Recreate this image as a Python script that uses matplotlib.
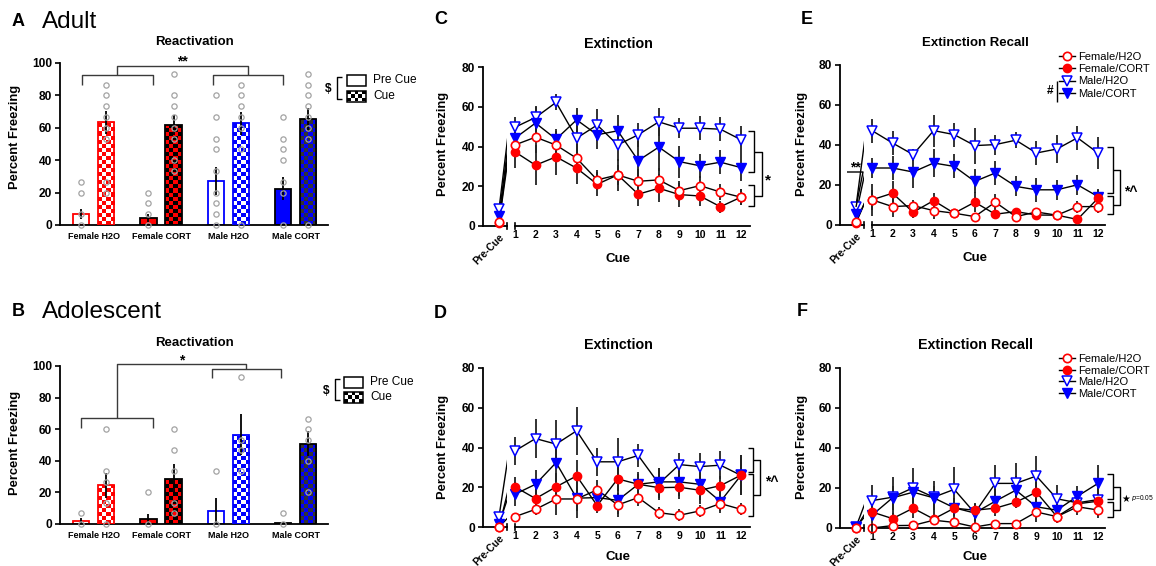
import matplotlib
matplotlib.use('Agg')
import matplotlib.pyplot as plt
import numpy as np
from matplotlib.colors import ListedColormap
from matplotlib.lines import Line2D
from matplotlib.patches import Rectangle

plt.rcParams['font.family'] = ['Liberation Sans', 'DejaVu Sans']

W, H = 1156, 566
RED = '#ff0000'
BLUE = '#0000ff'

# ---------------- data ----------------
groups = ['Female H2O', 'Female CORT', 'Male H2O', 'Male CORT']

# Reactivation, adult (A)
adult_pre = [6.8, 4.3, 27.3, 22.4]
adult_pre_sem = [3.2, 2.5, 8.5, 7.2]
adult_cue = [63.3, 61.6, 62.8, 65.3]
adult_cue_sem = [7, 6, 7, 7]
adult_pre_dots = [[26.7, 20, 6.7, 0], [20, 13.3, 6.7, 0],
                  [80, 66.7, 53.3, 46.7, 33.3, 20, 13.3, 6.7, 0],
                  [66.7, 53.3, 46.7, 40, 26.7, 20, 0]]
adult_cue_dots = [[86.7, 80, 73.3, 66.7, 60, 53.3, 26.7, 20],
                  [93.3, 80, 73.3, 66.7, 60, 53.3, 40, 33.3],
                  [86.7, 80, 73.3, 66.7, 60, 46.7, 0],
                  [93.3, 86.7, 80, 73.3, 66.7, 60, 53.3, 0]]

# Reactivation, adolescent (B)
adol_pre = [2.1, 3.1, 8.0, 0.7]
adol_pre_sem = [2, 3.5, 8.5, 0.7]
adol_cue = [24.5, 28.7, 56.5, 50.8]
adol_cue_sem = [8, 9, 13, 8]
adol_pre_dots = [[6.7, 0], [20, 0], [33.3, 0], [6.7, 0]]
adol_cue_dots = [[60, 33.3, 26.7, 13.3, 0], [60, 46.7, 33.3, 13.3, 6.7],
                 [93.3, 53.3, 46.7, 33.3], [66.7, 60, 53.3, 40, 20]]

# extinction / recall: first value is Pre-Cue, then cues 1-12
cues = list(range(1, 13))
series_names = ['Female/H2O', 'Female/CORT', 'Male/H2O', 'Male/CORT']

c_fh2o = [2, 40.8, 44.7, 40.7, 34.1, 23.2, 25.7, 22.5, 23.2, 17.8, 20.3, 17.1, 14.5]
c_fcort = [1.5, 37.3, 30.6, 34.8, 29.1, 21.0, 25.7, 16.0, 19.0, 15.8, 15.1, 9.7, 14.5]
c_mh2o = [8.5, 49.7, 54.6, 62.2, 44.2, 50.8, 40.8, 45.9, 52.4, 49.2, 49.2, 48.7, 43.4]
c_mcort = [5, 44.2, 51.8, 43.7, 53.4, 45.9, 47.9, 32.9, 39.7, 32.4, 30.3, 32.1, 29.4]
c_fh2o_sem = [1, 6, 8, 7, 7, 5, 5, 6, 6, 5, 5, 4, 4]
c_fcort_sem = [1, 8, 10, 9, 8, 6, 8, 6, 7, 6, 5, 3, 4]
c_mh2o_sem = [2, 5, 6, 4, 8, 8, 8, 6, 7, 5, 6, 6, 7]
c_mcort_sem = [2, 6, 8, 5, 6, 7, 8, 10, 12, 8, 6, 6, 7]

d_fh2o = [0, 5.2, 8.9, 14.1, 14.1, 18.7, 11.1, 14.8, 7.2, 5.9, 8.1, 11.8, 8.9]
d_fcort = [0, 20.2, 14.3, 20.2, 25.7, 10.8, 24.2, 21.5, 19.8, 20.0, 18.5, 20.8, 26.1]
d_mh2o = [5.2, 38.3, 44.5, 41.7, 48.4, 32.8, 32.8, 36.0, 21.8, 31.4, 30.4, 31.1, 26.0]
d_mcort = [1.5, 16.5, 21.5, 32.4, 14.5, 14.8, 13.4, 21.5, 22.7, 22.7, 21.5, 12.8, 26.0]
d_fh2o_sem = [0, 2, 3, 8, 6, 5, 6, 4, 3, 3, 3, 4, 3]
d_fcort_sem = [0, 5, 5, 7, 8, 4, 6, 5, 5, 6, 7, 5, 10]
d_mh2o_sem = [1, 7, 10, 12, 12, 7, 12, 6, 8, 6, 7, 7, 9]
d_mcort_sem = [1, 6, 7, 10, 10, 5, 7, 6, 7, 7, 8, 6, 10]

e_fh2o = [1.7, 12.6, 9.2, 9.7, 7.2, 5.9, 4.2, 11.4, 4.2, 6.5, 4.9, 9.2, 9.2]
e_fcort = [1.0, 12.6, 15.9, 6.4, 12.2, 5.9, 11.4, 5.4, 6.7, 5.0, 4.9, 2.8, 13.4]
e_mh2o = [9.2, 47.2, 41.0, 35.2, 47.2, 45.2, 39.7, 40.2, 42.4, 36.0, 38.0, 43.6, 36.0]
e_mcort = [5.5, 28.5, 28.5, 26.5, 31.0, 29.3, 21.8, 26.0, 19.3, 17.6, 17.6, 20.1, 14.2]
e_fh2o_sem = [1, 8, 5, 3, 4, 2, 2, 4, 2, 2, 2, 3, 3]
e_fcort_sem = [1, 5, 6, 3, 4, 2, 5, 2, 2, 2, 2, 1, 4]
e_mh2o_sem = [2, 6, 6, 3, 8, 6, 9, 5, 4, 6, 7, 6, 8]
e_mcort_sem = [2, 5, 6, 8, 7, 6, 6, 6, 5, 6, 5, 5, 4]

f_fh2o = [0, 0, 1.2, 1.3, 3.9, 2.8, 0.5, 2.2, 2.2, 8.0, 5.7, 10.6, 9.0]
f_fcort = [0, 8.0, 4.7, 9.9, 4.5, 9.9, 8.9, 9.9, 12.9, 17.9, 5.7, 12.1, 13.4]
f_mh2o = [0.5, 13.7, 15.4, 20.1, 15.4, 19.3, 7.5, 22.3, 22.3, 26.0, 14.6, 12.6, 14.2]
f_mcort = [0.5, 6.4, 15.1, 17.9, 15.1, 10.1, 7.5, 13.4, 18.9, 10.6, 8.9, 15.9, 22.3]
f_fh2o_sem = [0, 0, 1, 1, 2, 2, 0.5, 1, 1, 5, 2, 2, 3]
f_fcort_sem = [0, 4, 3, 5, 3, 4, 3, 4, 3, 5, 3, 4, 4]
f_mh2o_sem = [0.5, 8, 10, 10, 8, 11, 5, 9, 10, 10, 7, 6, 9]
f_mcort_sem = [0.5, 5, 6, 6, 6, 5, 4, 6, 7, 5, 4, 5, 9]

# ---------------- styles ----------------
pre_face = ['white', RED, 'white', BLUE]
pre_edge = [RED, 'black', BLUE, 'black']
cue_checker = [(RED, 'white'), (RED, 'black'), (BLUE, 'white'), (BLUE, '#333333')]
cue_edge = [RED, 'black', BLUE, 'black']

styles = [
    dict(marker='o', mfc='white', mec=RED, ms=6, mew=1.2),
    dict(marker='o', mfc=RED, mec=RED, ms=6, mew=1.0),
    dict(marker='v', mfc='white', mec=BLUE, ms=6.5, mew=1.1),
    dict(marker='v', mfc=BLUE, mec=BLUE, ms=6.5, mew=1.0),
]
draw_order = [2, 3, 1, 0]   # bottom -> top

fig = plt.figure(figsize=(W / 100, H / 100), dpi=100)


def px_axes(x0, y0, x1, y1):
    return fig.add_axes([x0 / W, 1 - y1 / H, (x1 - x0) / W, (y1 - y0) / H])


over = fig.add_axes([0, 0, 1, 1], zorder=20)
over.set_xlim(0, W)
over.set_ylim(H, 0)
over.axis('off')


def style_yaxis(ax, ticks):
    ax.set_yticks(ticks)
    ax.tick_params(axis='y', length=3.5, width=1.2, pad=2, labelsize=8.6)
    for lab in ax.get_yticklabels():
        lab.set_fontweight('bold')
    ax.spines['left'].set_linewidth(1.3)
    ax.spines['bottom'].set_linewidth(1.3)
    ax.spines['top'].set_visible(False)
    ax.spines['right'].set_visible(False)
    ax.patch.set_visible(False)


def bar_panel(box, pre, pre_sem, cue, cue_sem, pre_dots, cue_dots):
    ax = px_axes(*box)
    x = np.arange(len(groups))
    xp, xc, w = x - 0.186, x + 0.186, 0.245
    for i in range(len(groups)):
        ax.bar(xp[i], pre[i], w, color=pre_face[i], edgecolor=pre_edge[i], lw=1.3, zorder=2)
        nrows = int(np.ceil(cue[i] / 2.5))
        board = np.add.outer(np.arange(nrows), np.arange(4)) % 2
        im = ax.imshow(board, extent=(xc[i] - w / 2, xc[i] + w / 2, 0, nrows * 2.5),
                       origin='lower', cmap=ListedColormap(cue_checker[i]),
                       interpolation='nearest', aspect='auto', zorder=2)
        bar = ax.bar(xc[i], cue[i], w, color='none', edgecolor=cue_edge[i], lw=1.3, zorder=3)[0]
        im.set_clip_path(bar)
        ax.errorbar([xp[i], xc[i]], [pre[i], cue[i]], yerr=[pre_sem[i], cue_sem[i]],
                    fmt='none', ecolor='black', elinewidth=1.3, capsize=0, zorder=4)
        ax.plot([xp[i]] * len(pre_dots[i]), pre_dots[i], 'o', mfc='none', mec='#a3a3a3',
                ms=3.8, mew=0.9, zorder=5, clip_on=False)
        ax.plot([xc[i]] * len(cue_dots[i]), cue_dots[i], 'o', mfc='none', mec='#a3a3a3',
                ms=3.8, mew=0.9, zorder=5, clip_on=False)
    ax.set_xlim(-0.5, 3.48)
    ax.set_ylim(0, 100)
    ax.set_xticks(x)
    ax.set_xticklabels(groups, fontsize=6.5, fontweight='bold')
    ax.tick_params(axis='x', length=0, pad=5)
    style_yaxis(ax, [0, 20, 40, 60, 80, 100])
    return ax


def line_panel(y0, y1, xl0, xl1, xr0, xr1, rlim, vals, sems):
    axl = px_axes(xl0, y0, xl1, y1)
    axr = px_axes(xr0, y0, xr1, y1)
    for k in draw_order:
        v, s, st = vals[k], sems[k], styles[k]
        axl.errorbar([0], [v[0]], yerr=[s[0]], fmt='none', ecolor='#222222',
                     elinewidth=1.3, capsize=0, zorder=1)
        axl.plot([0, 1], v[:2], color='black', lw=1, zorder=2)
        axl.plot([0], [v[0]], ls='none', zorder=3 + draw_order.index(k), clip_on=False, **st)
        eb = axr.errorbar(cues, v[1:], yerr=s[1:], fmt='none', ecolor='#222222',
                          elinewidth=1.3, capsize=0, zorder=1)
        for c in eb.lines[2]:
            c.set_clip_on(False)
        axr.plot(cues, v[1:], color='black', lw=1, zorder=2, clip_on=False)
        axr.plot(cues, v[1:], ls='none', zorder=3 + draw_order.index(k), clip_on=False, **st)
    for ax in (axl, axr):
        ax.set_ylim(0, 80)
    axl.set_xlim(-1.6, 0.8)
    axr.set_xlim(1, rlim)
    style_yaxis(axl, [0, 20, 40, 60, 80])
    axl.set_xticks([0])
    axl.set_xticklabels(['Pre-Cue'], rotation=45, ha='right', va='top',
                        rotation_mode='anchor', fontsize=7.3, fontweight='bold')
    axl.tick_params(axis='x', length=0, pad=4)
    axr.spines['left'].set_visible(False)
    axr.spines['top'].set_visible(False)
    axr.spines['right'].set_visible(False)
    axr.spines['bottom'].set_linewidth(1.3)
    axr.set_yticks([])
    axr.patch.set_visible(False)
    axr.set_xticks(cues)
    axr.set_xticklabels([str(c) for c in cues], fontsize=7.5, fontweight='bold')
    axr.tick_params(axis='x', length=0, pad=3)
    # break marks on the x axis
    for xb in (xl1, xr0):
        over.plot([xb, xb], [y1 - 3, y1 + 3], color='black', lw=1.2)
    return axl, axr


def seg(points, color='black', lw=1.0):
    xs, ys = zip(*points)
    over.plot(xs, ys, color=color, lw=lw, solid_capstyle='butt')


def sig_brackets(x0, x1, x2, a, b, c, d):
    seg([(x0, a), (x1, a), (x1, b), (x0, b)])
    seg([(x0, c), (x1, c), (x1, d), (x0, d)])
    seg([(x1, (a + b) / 2), (x2, (a + b) / 2), (x2, (c + d) / 2), (x1, (c + d) / 2)])


def bar_legend(x, y_pre, y_cue, dollar_x, br_x):
    over.add_patch(Rectangle((x, y_pre - 5.5), 19, 11, fc='white', ec='black', lw=1.1))
    over.add_patch(Rectangle((x, y_cue - 5.5), 19, 11, fc='white', ec='black', lw=1.1))
    sq = 19 / 5
    for r in range(3):
        for cidx in range(5):
            if (r + cidx) % 2 == 0:
                over.add_patch(Rectangle((x + cidx * sq, y_cue - 5.5 + r * 11 / 3), sq, 11 / 3,
                                         fc='black', ec='none'))
    over.text(x + 26, y_pre, 'Pre Cue', fontsize=8.6, va='center', ha='left')
    over.text(x + 26, y_cue, 'Cue', fontsize=8.6, va='center', ha='left')
    over.text(dollar_x, (y_pre + y_cue) / 2 + 1, '$', fontsize=8.6, fontweight='bold',
              va='center', ha='center')
    seg([(br_x + 5, y_pre - 3), (br_x, y_pre - 3), (br_x, y_cue + 3), (br_x + 5, y_cue + 3)], lw=1.0)


# ---------------- A / B: reactivation bars ----------------
bar_panel((60, 63, 328, 225), adult_pre, adult_pre_sem, adult_cue, adult_cue_sem,
          adult_pre_dots, adult_cue_dots)
bar_panel((60, 366, 328, 524), adol_pre, adol_pre_sem, adol_cue, adol_cue_sem,
          adol_pre_dots, adol_cue_dots)

GRAY = '#3a3a3a'
# A brackets
seg([(82, 85), (82, 75), (153, 75), (153, 85)], GRAY)
seg([(213, 85), (213, 75), (283, 75), (283, 85)], GRAY)
seg([(117, 75), (117, 66), (248, 66), (248, 75)], GRAY)
over.text(182, 61, '**', fontsize=10, fontweight='bold', ha='center', va='center')
# B brackets
seg([(81, 428), (81, 418), (153, 418), (153, 428)], GRAY)
seg([(212, 378), (212, 369), (281, 369), (281, 378)], GRAY)
seg([(117, 418), (117, 364), (246, 364), (246, 369)], GRAY)
over.text(182, 360, '*', fontsize=10, fontweight='bold', ha='center', va='center')

bar_legend(347, 80, 96, 328, 337)
bar_legend(344, 382, 397, 326, 335)

# ---------------- C-F: extinction lines ----------------
line_panel(67, 226, 483, 507, 515, 750, 12.44,
           [c_fh2o, c_fcort, c_mh2o, c_mcort], [c_fh2o_sem, c_fcort_sem, c_mh2o_sem, c_mcort_sem])
line_panel(368, 527, 483, 507, 515, 750, 12.44,
           [d_fh2o, d_fcort, d_mh2o, d_mcort], [d_fh2o_sem, d_fcort_sem, d_mh2o_sem, d_mcort_sem])
axl_e, axr_e = line_panel(65, 225, 840, 864, 872, 1105, 12.34,
                          [e_fh2o, e_fcort, e_mh2o, e_mcort],
                          [e_fh2o_sem, e_fcort_sem, e_mh2o_sem, e_mcort_sem])
axl_f, axr_f = line_panel(368, 528, 840, 864, 872, 1105, 12.34,
                          [f_fh2o, f_fcort, f_mh2o, f_mcort],
                          [f_fh2o_sem, f_fcort_sem, f_mh2o_sem, f_mcort_sem])

# significance brackets on the right
sig_brackets(748, 754, 762, 131, 172, 185, 206)
over.text(768, 180, '*', fontsize=11, fontweight='bold', ha='center', va='center')
sig_brackets(748, 753, 760, 448, 472, 474, 516)
over.text(772, 482, '*^', fontsize=10, fontweight='bold', ha='center', va='center')
sig_brackets(1107, 1113, 1120, 147, 193, 196, 214)
over.text(1131, 192, '*^', fontsize=10, fontweight='bold', ha='center', va='center')
sig_brackets(1107, 1113, 1120, 474, 499, 502, 517)
over.text(1126, 499, '★', fontsize=7, ha='center', va='center', family=['DejaVu Sans'])
over.text(1131, 498, r'$\it{p}$=0.05', fontsize=4.8, ha='left', va='center')

# E pre-cue annotation
seg([(847, 172), (863, 172), (856, 207)])
over.text(855, 167, '**', fontsize=10, fontweight='bold', ha='center', va='center')

# legends for E and F
handles = [Line2D([], [], color='black', lw=1, **st) for st in styles]
axr_e.legend(handles, series_names, loc='upper left', bbox_to_anchor=(1059 / W, 1 - 52 / H),
             bbox_transform=fig.transFigure, frameon=False, fontsize=8, handlelength=1.4,
             handletextpad=0.35, labelspacing=0.2, borderpad=0, borderaxespad=0)
axr_f.legend(handles, series_names, loc='upper left', bbox_to_anchor=(1059 / W, 1 - 354 / H),
             bbox_transform=fig.transFigure, frameon=False, fontsize=8, handlelength=1.4,
             handletextpad=0.35, labelspacing=0.15, borderpad=0, borderaxespad=0)
over.text(1050, 91, '#', fontsize=8.6, fontweight='bold', ha='center', va='center')
seg([(1057, 81), (1057, 102)])

# ---------------- titles and labels ----------------
over.text(18, 21, 'A', fontsize=13, fontweight='bold', ha='center', va='center')
over.text(42, 22, 'Adult', fontsize=17.5, ha='left', va='center')
over.text(18, 311, 'B', fontsize=13, fontweight='bold', ha='center', va='center')
over.text(42, 312, 'Adolescent', fontsize=17.5, ha='left', va='center')
over.text(441, 19, 'C', fontsize=13, fontweight='bold', ha='center', va='center')
over.text(440, 313, 'D', fontsize=13, fontweight='bold', ha='center', va='center')
over.text(807, 19, 'E', fontsize=13, fontweight='bold', ha='center', va='center')
over.text(802, 312, 'F', fontsize=13, fontweight='bold', ha='center', va='center')

for x, y, t, fs in [(194, 42, 'Reactivation', 9.5), (194, 343, 'Reactivation', 9.5),
                    (618, 44, 'Extinction', 10.3), (618, 345, 'Extinction', 10.3),
                    (975, 43, 'Extinction Recall', 9.5), (975, 345, 'Extinction Recall', 10.3)]:
    over.text(x, y, t, fontsize=fs, fontweight='bold', ha='center', va='center')

for x, y in [(15, 137), (15, 443), (443, 144), (443, 447), (802, 144), (802, 447)]:
    over.text(x, y, 'Percent Freezing', fontsize=9.3, fontweight='bold', rotation=90,
              ha='center', va='center')

for x, y in [(618, 259), (618, 557), (975, 258), (975, 557)]:
    over.text(x, y, 'Cue', fontsize=9.5, fontweight='bold', ha='center', va='center')

fig.savefig('out.png', dpi=100)
